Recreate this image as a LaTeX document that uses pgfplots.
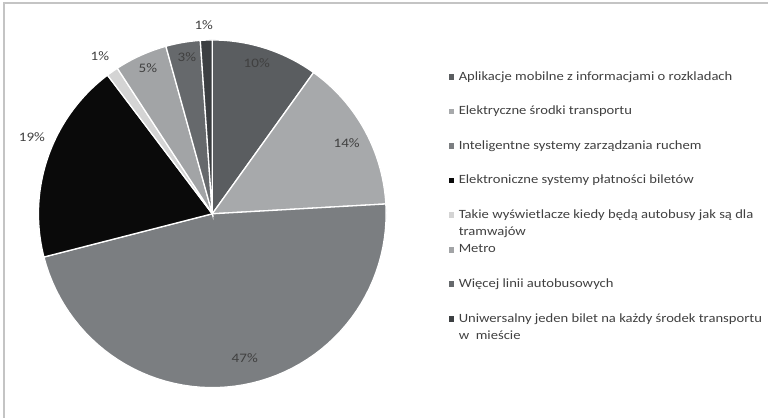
\documentclass[border=0pt]{standalone}
\usepackage{pgfplots}
\pgfplotsset{compat=1.18}
\usepackage{fontspec}
\setmainfont{Carlito}[FakeStretch=1.16]
\definecolor{sA}{HTML}{5A5D60}
\definecolor{sB}{HTML}{A7A9AB}
\definecolor{sC}{HTML}{7B7E81}
\definecolor{sD}{HTML}{0A0A0A}
\definecolor{sE}{HTML}{D4D4D4}
\definecolor{sF}{HTML}{A2A4A6}
\definecolor{sG}{HTML}{66696C}
\definecolor{sH}{HTML}{3C3F42}
\definecolor{txt}{HTML}{404040}
\definecolor{frame}{HTML}{C4C4C4}
% values (percent), clockwise from the top
\def\vA{9.9}\def\vB{14.2}\def\vC{46.9}\def\vD{18.7}
\def\vE{1.1}\def\vF{4.9}\def\vG{3.2}\def\vH{1.1}
\begin{document}
\begin{tikzpicture}
\pgfmathsetmacro\aA{90}
\pgfmathsetmacro\aB{\aA-3.6*\vA}
\pgfmathsetmacro\aC{\aB-3.6*\vB}
\pgfmathsetmacro\aD{\aC-3.6*\vC}
\pgfmathsetmacro\aE{\aD-3.6*\vD}
\pgfmathsetmacro\aF{\aE-3.6*\vE}
\pgfmathsetmacro\aG{\aF-3.6*\vF}
\pgfmathsetmacro\aH{\aG-3.6*\vG}
\pgfmathsetmacro\aI{\aH-3.6*\vH}
\def\cx{212.5}\def\cy{204}\def\rr{174}
\begin{axis}[
  width=769pt, height=418pt, scale only axis,
  xmin=0, xmax=769, ymin=0, ymax=418,
  hide axis, clip=false,
  legend cell align=left,
  legend image code/.code={\path[#1, draw=none] (0pt,-2.8pt) rectangle (5.6pt,2.8pt);},
  legend style={
    at={(axis cs:449,346.5)}, anchor=north west,
    draw=none, fill=none, inner sep=0pt,
    font=\fontsize{12.6}{17.5}\selectfont, text=txt,
    nodes={inner sep=0pt, text height=8.5pt, text depth=2pt},
    row sep=24.1pt, column sep=4.4pt,
  },
  wedge/.style={draw=white, line width=1.3pt, samples=60, variable=\t},
]
\path (axis cs:0,0) rectangle (axis cs:769,418);
\draw[frame, line width=1.5pt] (axis cs:4,0) -- (axis cs:4,415) -- (axis cs:769,415);

\addplot[wedge, fill=sA, domain=\aA:\aB] ({\cx+\rr*cos(\t)},{\cy+\rr*sin(\t)}) -- (axis cs:\cx,\cy) -- cycle;
\addlegendentry{Aplikacje mobilne z informacjami o rozkladach}
\addplot[wedge, fill=sB, domain=\aB:\aC] ({\cx+\rr*cos(\t)},{\cy+\rr*sin(\t)}) -- (axis cs:\cx,\cy) -- cycle;
\addlegendentry{Elektryczne środki transportu}
\addplot[wedge, fill=sC, domain=\aC:\aD] ({\cx+\rr*cos(\t)},{\cy+\rr*sin(\t)}) -- (axis cs:\cx,\cy) -- cycle;
\addlegendentry{Inteligentne systemy zarządzania ruchem}
\addplot[wedge, fill=sD, domain=\aD:\aE] ({\cx+\rr*cos(\t)},{\cy+\rr*sin(\t)}) -- (axis cs:\cx,\cy) -- cycle;
\addlegendentry{Elektroniczne systemy płatności biletów}
\addplot[wedge, fill=sE, domain=\aE:\aF] ({\cx+\rr*cos(\t)},{\cy+\rr*sin(\t)}) -- (axis cs:\cx,\cy) -- cycle;
\addlegendentry{\begin{tabular}[t]{@{}l@{}}Takie wyświetlacze kiedy będą autobusy jak są dla\\tramwajów\end{tabular}}
\addplot[wedge, fill=sF, domain=\aF:\aG] ({\cx+\rr*cos(\t)},{\cy+\rr*sin(\t)}) -- (axis cs:\cx,\cy) -- cycle;
\addlegendentry{Metro}
\addplot[wedge, fill=sG, domain=\aG:\aH] ({\cx+\rr*cos(\t)},{\cy+\rr*sin(\t)}) -- (axis cs:\cx,\cy) -- cycle;
\addlegendentry{Więcej linii autobusowych}
\addplot[wedge, fill=sH, domain=\aH:\aI] ({\cx+\rr*cos(\t)},{\cy+\rr*sin(\t)}) -- (axis cs:\cx,\cy) -- cycle;
\addlegendentry{\begin{tabular}[t]{@{}l@{}}Uniwersalny jeden bilet na każdy środek transportu\\w~ mieście\end{tabular}}

\begin{scope}[every node/.style={text=txt, font=\fontsize{13}{15}\selectfont}]
\node at (axis cs:257,355) {10\%};
\node at (axis cs:347,275) {14\%};
\node at (axis cs:245,60) {47\%};
\node at (axis cs:32,281) {19\%};
\node at (axis cs:100,362) {1\%};
\node at (axis cs:148,350) {5\%};
\node at (axis cs:187,361) {3\%};
\node at (axis cs:204,393) {1\%};
\end{scope}
\end{axis}
\end{tikzpicture}
\end{document}
